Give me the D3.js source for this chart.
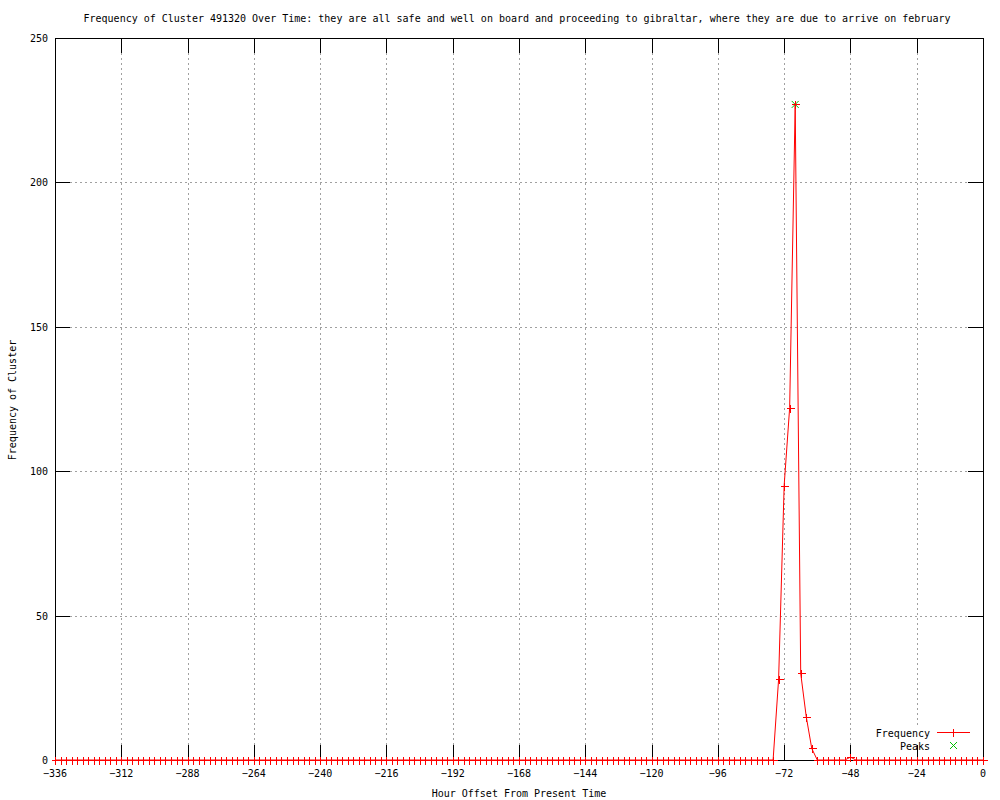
<!DOCTYPE html>
<html><head><meta charset="utf-8">
<script src="https://cdn.jsdelivr.net/npm/d3@7"></script>
<style>body{margin:0;background:#fff}svg{display:block}text{font-family:"DejaVu Sans Mono",monospace;font-size:10px;fill:#000}</style>
</head><body><svg id="c" width="1000" height="800"></svg>
<script>
const titleText = "Frequency of Cluster 491320 Over Time: they are all safe and well on board and proceeding to gibraltar, where they are due to arrive on february";
const xLabel = "Hour Offset From Present Time";
const yLabel = "Frequency of Cluster";
const xTicks = [-336,-312,-288,-264,-240,-216,-192,-168,-144,-120,-96,-72,-48,-24,0];
const yTicks = [0,50,100,150,200,250];
const hours = d3.range(-336, 1, 2);
const frequency = [
0,0,0,0,0,0,0,0,0,0, 0,0,0,0,0,0,0,0,0,0, 0,0,0,0,0,0,0,0,0,0,
0,0,0,0,0,0,0,0,0,0, 0,0,0,0,0,0,0,0,0,0, 0,0,0,0,0,0,0,0,0,0,
0,0,0,0,0,0,0,0,0,0, 0,0,0,0,0,0,0,0,0,0, 0,0,0,0,0,0,0,0,0,0,
0,0,0,0,0,0,0,0,0,0, 0,0,0,0,0,0,0,0,0,0, 0,0,0,0,0,0,0,0,0,0,
0,0,0,0,0,0,0,0,0,0,
0,28,95,122,227,30,15,4,0,0,
0,0,0,0,1,0,0,0,0,0,
0,0,0,0,0,0,0,0,0,0,
0,0,0,0,0,0,0,0,0
];
const peakHours = [-68];
const peakValues = [227];

const L=55, R=983, T=38, B=760;
const svg = d3.select("#c");
const x = d3.scaleLinear().domain([-336,0]).range([L,R]);
const y = d3.scaleLinear().domain([0,250]).range([B,T]);
const px = v => Math.round(v)+0.5;

// grid
const g = svg.append("g").attr("stroke","#a0a0a0").attr("stroke-dasharray","2,3").attr("shape-rendering","crispEdges");
xTicks.slice(1,-1).forEach(t=>g.append("line").attr("x1",px(x(t))).attr("x2",px(x(t))).attr("y1",T).attr("y2",B));
yTicks.slice(1,-1).forEach(t=>g.append("line").attr("y1",px(y(t))).attr("y2",px(y(t))).attr("x1",L).attr("x2",R));

// legend background
svg.append("rect").attr("x",870).attr("y",725).attr("width",108).attr("height",28).attr("fill","#fff");

// ticks
const tk = svg.append("g").attr("stroke","#000").attr("shape-rendering","crispEdges");
const tl = 15;
xTicks.forEach(t=>{const xx=px(x(t));
  tk.append("line").attr("x1",xx).attr("x2",xx).attr("y1",B).attr("y2",B-tl);
  tk.append("line").attr("x1",xx).attr("x2",xx).attr("y1",T).attr("y2",T+tl);
  svg.append("text").attr("x",x(t)).attr("y",777).attr("text-anchor","middle").text(t===0?"0":"\u2212"+Math.abs(t).toString().replace("-",""));
});
yTicks.forEach(t=>{const yy=px(y(t));
  tk.append("line").attr("y1",yy).attr("y2",yy).attr("x1",L).attr("x2",L+tl);
  tk.append("line").attr("y1",yy).attr("y2",yy).attr("x1",R).attr("x2",R-tl);
  svg.append("text").attr("x",48).attr("y",y(t)+4).attr("text-anchor","end").text(t);
});
svg.append("rect").attr("x",L+0.5).attr("y",T+0.5).attr("width",R-L).attr("height",B-T).attr("fill","none").attr("stroke","#000").attr("shape-rendering","crispEdges");

// line
const data = hours.map((h,i)=>({h, v:frequency[i]}));
svg.append("path").datum(data).attr("fill","none").attr("stroke","#ff0000").attr("stroke-width",1)
  .attr("d", d3.line().x(d=>x(d.h)).y(d=>y(d.v)));
const plus = (sel, cx, cy, s, col) => {
  sel.append("path").attr("d",`M${cx-s},${cy}H${cx+s}M${cx},${cy-s}V${cy+s}`).attr("stroke",col).attr("fill","none").attr("shape-rendering","crispEdges");
};
const cross = (sel, cx, cy, s, col) => {
  sel.append("path").attr("d",`M${cx-s},${cy-s}L${cx+s},${cy+s}M${cx-s},${cy+s}L${cx+s},${cy-s}`).attr("stroke",col).attr("fill","none");
};
const mk = svg.append("g");
peakHours.forEach((h,i)=>cross(mk, x(h), y(peakValues[i]), 3.5, "#00c000"));
data.forEach(d=>plus(mk, px(x(d.h)), px(y(d.v)), 4, "#ff0000"));

// legend
svg.append("text").attr("x",930).attr("y",737).attr("text-anchor","end").text("Frequency");
svg.append("line").attr("x1",937).attr("x2",970).attr("y1",732.5).attr("y2",732.5).attr("stroke","#ff0000");
plus(svg, 953.5, 732.5, 4, "#ff0000");
svg.append("text").attr("x",930).attr("y",750).attr("text-anchor","end").text("Peaks");
cross(svg, 953.5, 745.5, 3.5, "#00c000");

// titles
svg.append("text").attr("x",517).attr("y",22).attr("text-anchor","middle").text(titleText);
svg.append("text").attr("x",519).attr("y",797).attr("text-anchor","middle").text(xLabel);
svg.append("text").attr("transform","translate(16,400) rotate(-90)").attr("text-anchor","middle").text(yLabel);
</script></body></html>
